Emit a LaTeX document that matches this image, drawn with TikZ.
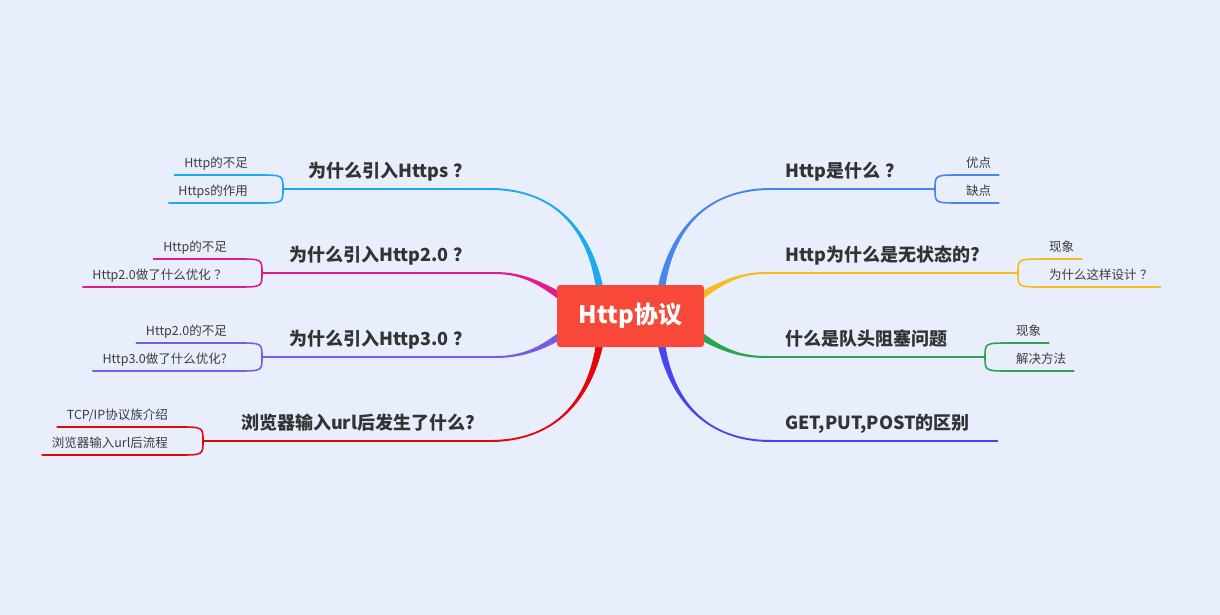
\documentclass[tikz,border=0pt]{standalone}
\usepackage{fontspec}
\newfontfamily\cjk{Noto Sans CJK SC}
\usetikzlibrary{calc}
\definecolor{bgc}{RGB}{232,238,251}
\definecolor{boxc}{RGB}{247,72,58}
\definecolor{maintxt}{RGB}{51,51,51}
\definecolor{subtxt}{RGB}{60,60,60}
\definecolor{cA}{RGB}{30,168,240}
\definecolor{cB}{RGB}{224,28,140}
\definecolor{cC}{RGB}{120,92,225}
\definecolor{cD}{RGB}{225,10,10}
\definecolor{cE}{RGB}{70,135,235}
\definecolor{cF}{RGB}{245,190,30}
\definecolor{cG}{RGB}{45,165,80}
\definecolor{cH}{RGB}{70,70,240}
\newcommand\qsp{\hspace{0.28em}}
\tikzset{
  mainlbl/.style={font=\cjk\bfseries\fontsize{18}{20}\selectfont, text=maintxt, inner sep=0pt},
  sublbl/.style={font=\cjk\fontsize{12.5}{14}\selectfont, text=subtxt, inner sep=0pt},
  hline/.style={line width=2pt},
  sline/.style={line width=1.6pt},
}
% tapered trunk: color, start, c1, c2, end, offset at start (lower side)
\newcommand\trunk[6]{\fill[#1] ($(#2)+(#6)$) .. controls ($(#3)+0.5*(#6)$) and ($(#4)+(0,1)$) .. ($(#5)+(0,1)$) -- ($(#5)+(0,-1)$) .. controls ($(#4)+(0,-1)$) and ($(#3)-0.5*(#6)$) .. ($(#2)-(#6)$) -- cycle;}
% left sub branch: color, fork, dy, name, text
\newcommand\subL[5]{%
  \coordinate (#4k) at ($(#2)+(-25,#3)$);
  \node[sublbl, anchor=base east] (#4) at ($(#2)+(-35,#3-8)$) {#5};
  \draw[sline,#1] (#2) .. controls (#2 |- #4k) .. (#4k) -- ($(#4.west |- #4k)+(-10,0)$);}
% right sub branch
\newcommand\subR[5]{%
  \coordinate (#4k) at ($(#2)+(25,#3)$);
  \node[sublbl, anchor=base west] (#4) at ($(#2)+(31,#3-8)$) {#5};
  \draw[sline,#1] (#2) .. controls (#2 |- #4k) .. (#4k) -- ($(#4.east |- #4k)+(8,0)$);}
\begin{document}
\begin{tikzpicture}[x=1pt,y=-1pt]
\fill[bgc] (0,0) rectangle (1220,615);
\useasboundingbox (0,0) rectangle (1220,615);

% coordinates
\coordinate (L1s) at (600,290); \coordinate (L1c1) at (590,230); \coordinate (L1c2) at (555,189); \coordinate (L1e) at (490,189); \coordinate (L1f) at (283,189);
\coordinate (L2s) at (560,296); \coordinate (L2c1) at (540,283); \coordinate (L2c2) at (522,273); \coordinate (L2e) at (495,273); \coordinate (L2f) at (262,273);
\coordinate (L3s) at (560,336); \coordinate (L3c1) at (540,349); \coordinate (L3c2) at (522,357); \coordinate (L3e) at (495,357); \coordinate (L3f) at (262,357);
\coordinate (L4s) at (600,342); \coordinate (L4c1) at (590,400); \coordinate (L4c2) at (555,441); \coordinate (L4e) at (490,441); \coordinate (L4f) at (203,441);
\coordinate (R1s) at (661,290); \coordinate (R1c1) at (671,230); \coordinate (R1c2) at (706,189); \coordinate (R1e) at (771,189); \coordinate (R1f) at (935,189);
\coordinate (R2s) at (701,296); \coordinate (R2c1) at (721,283); \coordinate (R2c2) at (739,273); \coordinate (R2e) at (766,273); \coordinate (R2f) at (1018,273);
\coordinate (R3s) at (701,336); \coordinate (R3c1) at (721,349); \coordinate (R3c2) at (739,357); \coordinate (R3e) at (766,357); \coordinate (R3f) at (985,357);
\coordinate (R4s) at (661,342); \coordinate (R4c1) at (671,400); \coordinate (R4c2) at (706,441); \coordinate (R4e) at (771,441); \coordinate (R4f) at (998,441);

% trunks
\trunk{cA}{L1s}{L1c1}{L1c2}{L1e}{-3.8,0}
\trunk{cB}{L2s}{L2c1}{L2c2}{L2e}{-1.6,3.3}
\trunk{cC}{L3s}{L3c1}{L3c2}{L3e}{1.6,3.3}
\trunk{cD}{L4s}{L4c1}{L4c2}{L4e}{3.8,0}
\trunk{cE}{R1s}{R1c1}{R1c2}{R1e}{3.8,0}
\trunk{cF}{R2s}{R2c1}{R2c2}{R2e}{1.6,3.3}
\trunk{cG}{R3s}{R3c1}{R3c2}{R3e}{-1.6,3.3}
\trunk{cH}{R4s}{R4c1}{R4c2}{R4e}{-3.8,0}

% main lines
\draw[hline,cA] (L1e) -- (L1f);
\draw[hline,cB] (L2e) -- (L2f);
\draw[hline,cC] (L3e) -- (L3f);
\draw[hline,cD] (L4e) -- (L4f);
\draw[hline,cE] (R1e) -- (R1f);
\draw[hline,cF] (R2e) -- (R2f);
\draw[hline,cG] (R3e) -- (R3f);
\draw[hline,cH] (R4e) -- (R4f);

% main labels
\node[mainlbl, anchor=base east] (t1) at (472,177) {为什么引入Https\qsp？};
\node[mainlbl, anchor=base east] (t2) at (472,261) {为什么引入Http2.0\qsp？};
\node[mainlbl, anchor=base east] (t3) at (472,345) {为什么引入Http3.0\qsp？};
\node[mainlbl, anchor=base east] (t4) at (475,429) {浏览器输入url后发生了什么?};
\node[mainlbl, anchor=base west] (t5) at (785,177) {Http是什么\qsp？};
\node[mainlbl, anchor=base west] (t6) at (785,261) {Http为什么是无状态的?};
\node[mainlbl, anchor=base west] (t7) at (785,345) {什么是队头阻塞问题};
\node[mainlbl, anchor=base west] (t8) at (785,429) {GET,PUT,POST的区别};

% sub branches
\subL{cA}{L1f}{-14}{a1}{Http的不足}
\subL{cA}{L1f}{14}{a2}{Https的作用}
\subL{cB}{L2f}{-14}{b1}{Http的不足}
\subL{cB}{L2f}{14}{b2}{Http2.0做了什么优化\qsp？}
\subL{cC}{L3f}{-14}{c1}{Http2.0的不足}
\subL{cC}{L3f}{14}{c2}{Http3.0做了什么优化?}
\subL{cD}{L4f}{-14}{d1}{TCP/IP协议族介绍}
\subL{cD}{L4f}{14}{d2}{浏览器输入url后流程}
\subR{cE}{R1f}{-14}{e1}{优点}
\subR{cE}{R1f}{14}{e2}{缺点}
\subR{cF}{R2f}{-14}{f1}{现象}
\subR{cF}{R2f}{14}{f2}{为什么这样设计\qsp？}
\subR{cG}{R3f}{-14}{g1}{现象}
\subR{cG}{R3f}{14}{g2}{解决方法}

% center
\node[fill=boxc, rounded corners=3pt, minimum width=147pt, minimum height=62pt, inner sep=0pt, text=white, font=\cjk\bfseries\fontsize{24}{26}\selectfont] (c) at (630.5,316) {Http协议};
\end{tikzpicture}
\end{document}
